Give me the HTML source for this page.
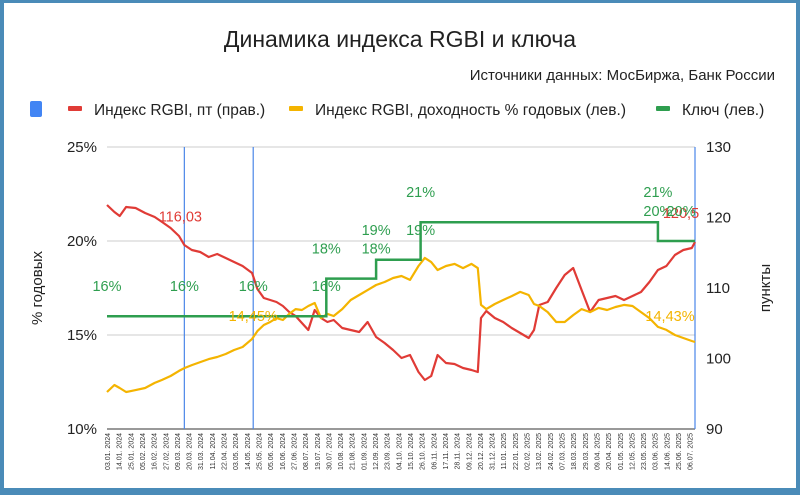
<!DOCTYPE html>
<html><head><meta charset="utf-8">
<style>
html,body{margin:0;padding:0;}
body{width:800px;height:495px;overflow:hidden;background:#4a8bb8;font-family:"Liberation Sans",sans-serif;}
#frame{position:absolute;left:4px;top:3px;width:792px;height:485px;background:#fff;}
svg{position:absolute;left:0;top:0;}
</style></head>
<body>
<div id="frame"></div>
<svg id="chart" width="800" height="495">
<text x="400" y="47" text-anchor="middle" font-size="23" fill="#222">Динамика индекса RGBI и ключа</text>
<text x="775" y="80" text-anchor="end" font-size="15" fill="#222">Источники данных: МосБиржа, Банк России</text>
<g>
<rect x="30" y="101" width="12" height="16" rx="2" fill="#4285f4"/>
<rect x="68" y="106" width="14" height="5" rx="1" fill="#e03b36"/>
<text x="94" y="115" font-size="15.5" fill="#222">Индекс RGBI, пт (прав.)</text>
<rect x="289" y="106" width="14" height="5" rx="1" fill="#f4b400"/>
<text x="315" y="115" font-size="15.5" fill="#222">Индекс RGBI, доходность % годовых (лев.)</text>
<rect x="656" y="106" width="14" height="5" rx="1" fill="#2e9e4f"/>
<text x="682" y="115" font-size="15.5" fill="#222">Ключ (лев.)</text>
</g>
<g id="grid"></g>
<g id="axes"></g>
<g id="series"></g>
<g id="labels"></g>
<text transform="translate(42,288) rotate(-90)" text-anchor="middle" font-size="15" fill="#222">% годовых</text>
<text transform="translate(770,288) rotate(-90)" text-anchor="middle" font-size="15" fill="#222">пункты</text>
</svg>
<script>
const dates=["2024-01-03","2024-01-10","2024-01-15","2024-01-21","2024-01-30","2024-02-08","2024-02-17","2024-02-24","2024-03-03","2024-03-11","2024-03-16","2024-03-23","2024-03-31","2024-04-08","2024-04-16","2024-04-24","2024-05-02","2024-05-10","2024-05-19","2024-05-24","2024-05-30","2024-06-05","2024-06-11","2024-06-17","2024-06-23","2024-06-29","2024-07-05","2024-07-11","2024-07-17","2024-07-23","2024-07-29","2024-08-04","2024-08-12","2024-08-20","2024-08-28","2024-09-05","2024-09-13","2024-09-21","2024-09-29","2024-10-07","2024-10-15","2024-10-23","2024-10-29","2024-11-04","2024-11-10","2024-11-18","2024-11-26","2024-12-04","2024-12-12","2024-12-18","2024-12-21","2024-12-26","2025-01-03","2025-01-11","2025-01-19","2025-01-27","2025-02-04","2025-02-09","2025-02-14","2025-02-22","2025-03-02","2025-03-10","2025-03-18","2025-03-26","2025-04-03","2025-04-11","2025-04-19","2025-04-27","2025-05-05","2025-05-13","2025-05-21","2025-05-29","2025-06-06","2025-06-14","2025-06-22","2025-06-30","2025-07-08","2025-07-11"];
const rgbiIndex=[121.77,120.78,120.21,121.49,121.35,120.64,120.07,119.36,118.51,117.38,116.10,115.39,115.11,114.40,114.82,114.26,113.69,113.12,112.13,109.86,108.58,108.30,108.01,107.45,106.60,106.03,105.04,104.04,106.88,105.74,105.18,105.46,104.33,104.04,103.76,105.18,103.05,102.20,101.21,100.07,100.50,98.09,96.95,97.52,100.50,99.36,99.22,98.65,98.37,98.09,105.74,106.74,105.74,105.18,104.33,103.62,102.91,104.04,107.59,108.01,110.0,111.84,112.84,109.72,106.60,108.30,108.58,108.87,108.30,108.87,109.43,110.85,112.55,113.12,114.68,115.39,115.67,116.52];
const rgbiYield=[11.97,12.34,12.18,11.97,12.07,12.18,12.45,12.61,12.82,13.09,13.24,13.40,13.56,13.72,13.83,13.99,14.20,14.36,14.79,15.21,15.53,15.69,15.90,15.80,16.12,16.38,16.33,16.54,16.70,15.90,16.12,16.01,16.38,16.86,17.13,17.39,17.66,17.82,18.03,18.14,17.93,18.67,19.10,18.88,18.46,18.67,18.78,18.56,18.78,18.56,16.60,16.38,16.65,16.86,17.07,17.29,17.13,16.65,16.54,16.22,15.69,15.69,16.06,16.38,16.22,16.44,16.33,16.49,16.60,16.54,16.22,15.90,15.43,15.27,15.0,14.84,14.68,14.63];
const keyDates=["2024-01-03","2024-07-28","2024-09-13","2024-10-25","2025-06-06","2025-07-11"];
const keyRates=[16,18,19,21,20,20];
const leftTicks=[10,15,20,25];
const rightTicks=[90,100,110,120,130];
const markerDates=["2024-03-16","2024-05-20","2025-07-11"];
const xStart="2024-01-03", xEnd="2025-07-11";
const xTickStep=11;

const NS="http://www.w3.org/2000/svg";
const X0=107,X1=695,YT=147,YB=429;
const day=s=>Date.parse(s+"T00:00:00Z")/86400000;
const d0=day(xStart),d1=day(xEnd);
const xs=s=>X0+(day(s)-d0)/(d1-d0)*(X1-X0);
const yl=v=>YB-(v-10)/15*(YB-YT);
const yr=v=>YB-(v-90)/40*(YB-YT);
function mk(tag,attrs,parent,text){const e=document.createElementNS(NS,tag);for(const k in attrs)e.setAttribute(k,attrs[k]);if(text!==undefined)e.textContent=text;document.getElementById(parent).appendChild(e);return e;}

leftTicks.forEach(v=>{
  const g=mk("line",{x1:X0,x2:X1,y1:yl(v),y2:yl(v),stroke:v===10?"#333":"#ccc","stroke-width":1},"grid");
  
  
  const t=mk("text",{x:X0-10,y:yl(v)+5,"text-anchor":"end","font-size":15,fill:"#222"},"axes",v+"%");
  
  
});
rightTicks.forEach(v=>{
  const t=mk("text",{x:X1+11,y:yr(v)+5,"font-size":15,fill:"#222"},"axes",String(v));
  
  
});
for(let d=d0;d<=day("2025-07-06");d+=xTickStep){
  const dt=new Date(d*86400000);
  const lab=String(dt.getUTCDate()).padStart(2,"0")+"."+String(dt.getUTCMonth()+1).padStart(2,"0")+". "+dt.getUTCFullYear();
  const x=X0+(d-d0)/(d1-d0)*(X1-X0);
  const t=mk("text",{transform:`translate(${x+3},${YB+4}) rotate(-90)`,"text-anchor":"end","font-size":7,fill:"#333"},"axes",lab);
  
  
}
markerDates.forEach(s=>{
  const l=mk("line",{x1:xs(s),x2:xs(s),y1:YT,y2:YB,stroke:"#4a86e8","stroke-width":1.2},"grid");
  
  
});
// series
const rp=dates.map((s,i)=>xs(s).toFixed(1)+","+yr(rgbiIndex[i]).toFixed(1)).join(" ");
const r=mk("polyline",{points:rp,fill:"none",stroke:"#e03b36","stroke-width":2.2,"stroke-linejoin":"round"},"series");


const yp=dates.map((s,i)=>xs(s).toFixed(1)+","+yl(rgbiYield[i]).toFixed(1)).join(" ");
const y=mk("polyline",{points:yp,fill:"none",stroke:"#f4b400","stroke-width":2.2,"stroke-linejoin":"round"},"series");


let kp=[];
keyDates.forEach((s,i)=>{ if(i>0) kp.push(xs(s)+","+yl(keyRates[i-1])); kp.push(xs(s)+","+yl(keyRates[i])); });
const k=mk("polyline",{points:kp.join(" "),fill:"none",stroke:"#2e9e4f","stroke-width":2.5},"series");


// labels
function lbl(x,yy,txt,col,name){const t=mk("text",{x:x,y:yy,"text-anchor":"middle","font-size":14.5,fill:col},"labels",txt);
  
  }
[xStart,"2024-03-16","2024-05-20","2024-07-28"].forEach(s=>lbl(xs(s),yl(16)-25,"16%","#2e9e4f","key-rate-label"));
lbl(xs("2024-07-28"),yl(18)-25,"18%","#2e9e4f","key-rate-label");
lbl(xs("2024-09-13"),yl(18)-25,"18%","#2e9e4f","key-rate-label");
lbl(xs("2024-09-13"),yl(19)-25,"19%","#2e9e4f","key-rate-label");
lbl(xs("2024-10-25"),yl(19)-25,"19%","#2e9e4f","key-rate-label");
lbl(xs("2024-10-25"),yl(21)-25,"21%","#2e9e4f","key-rate-label");
lbl(xs("2025-06-06"),yl(21)-25,"21%","#2e9e4f","key-rate-label");
lbl(xs("2025-06-06"),yl(20)-25,"20%","#2e9e4f","key-rate-label");
lbl(xs("2024-03-16")-4,yr(116.03)-24,"116,03","#e03b36","rgbi-index-label");
lbl(xs(xEnd)-14,yr(116.52)-24,"120,5","#e03b36","rgbi-index-label");
lbl(xs(xEnd)-14,yl(20)-25,"20%","#2e9e4f","key-rate-label");
lbl(xs("2024-05-20"),yl(16)+5,"14,45%","#f4b400","rgbi-yield-label");
lbl(xs(xEnd)-25,yl(16)+5,"14,43%","#f4b400","rgbi-yield-label");
</script>
</body></html>
